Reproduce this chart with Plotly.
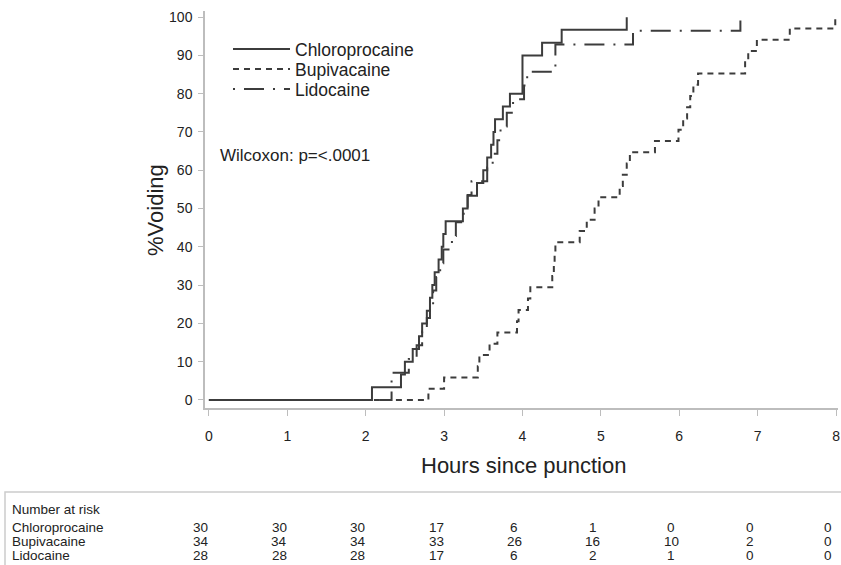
import plotly.graph_objects as go

# ---- data ----
chloro_t = [0, 2.08, 2.45, 2.50, 2.60, 2.68, 2.72, 2.78, 2.82, 2.85, 2.88, 2.93, 2.97, 2.99,
            3.02, 3.24, 3.30, 3.42, 3.50, 3.55, 3.60, 3.63, 3.65, 3.75, 3.84, 4.00, 4.25, 4.50, 5.33]
chloro_v = [0, 3.33, 6.67, 10.0, 13.33, 16.67, 20.0, 23.33, 26.67, 30.0, 33.33, 36.67, 40.0, 43.33,
            46.67, 50.0, 53.33, 56.67, 60.0, 63.33, 66.67, 70.0, 73.33, 76.67, 80.0, 90.0, 93.33, 96.67, 100]

bupi_t = [0, 2.80, 3.00, 3.43, 3.45, 3.58, 3.68, 3.93, 3.95, 4.07, 4.10, 4.38, 4.40, 4.41, 4.42,
          4.73, 4.82, 4.92, 4.97, 5.24, 5.28, 5.33, 5.37, 5.69, 5.99, 6.05, 6.10, 6.14, 6.18, 6.24,
          6.84, 6.88, 6.99, 7.41, 7.99, 8.0]
bupi_v = [0, 2.94, 5.88, 8.82, 11.76, 14.71, 17.65, 20.59, 23.53, 26.47, 29.41, 32.35, 35.29, 38.24, 41.18,
          44.12, 47.06, 50.0, 52.94, 55.88, 58.82, 61.76, 64.71, 67.65, 70.59, 73.53, 76.47, 79.41, 82.35, 85.29,
          88.24, 91.18, 94.12, 97.06, 100, 100]

lido_t = [0, 2.33, 2.55, 2.65, 2.72, 2.78, 2.82, 2.86, 2.90, 2.95, 2.99, 3.10, 3.15, 3.25, 3.30, 3.35,
          3.55, 3.62, 3.68, 3.72, 3.80, 3.88, 4.02, 4.06, 4.42, 5.41, 6.78]
lido_v = [0, 7.14, 10.71, 14.29, 17.86, 21.43, 25.0, 28.57, 32.14, 35.71, 39.29, 42.86, 46.43, 50.0, 53.57, 57.14,
          60.71, 64.29, 67.86, 71.43, 75.0, 78.57, 82.14, 85.71, 92.86, 96.43, 100]

risk_hours = [0, 1, 2, 3, 4, 5, 6, 7, 8]
risk_chloro = [30, 30, 30, 17, 6, 1, 0, 0, 0]
risk_bupi = [34, 34, 34, 33, 26, 16, 10, 2, 0]
risk_lido = [28, 28, 28, 17, 6, 2, 1, 0, 0]

x_ticks = [0, 1, 2, 3, 4, 5, 6, 7, 8]
y_ticks = [0, 10, 20, 30, 40, 50, 60, 70, 80, 90, 100]

# ---- layout geometry (pixels); body margin removed by post_script ----
W, H = 841, 565
L, R, T, B = 205, 3, 11, 157
PW, PH = W - L - R, H - T - B

def px(xp):  # page x pixel -> paper
    return (xp - L) / PW

def py(yp):  # page y pixel -> paper
    return (H - B - yp) / PH

LINE = "#3c3c3c"
FONT = "Liberation Sans, Arial, sans-serif"
NARROW = "Liberation Sans Narrow, Arial Narrow, Liberation Sans, sans-serif"

fig = go.Figure()
fig.add_trace(go.Scatter(x=chloro_t, y=chloro_v, mode="lines", name="Chloroprocaine", legend="legend",
                         line=dict(color=LINE, width=2, shape="hv")))
fig.add_trace(go.Scatter(x=bupi_t, y=bupi_v, mode="lines", name="Bupivacaine", legend="legend2",
                         line=dict(color=LINE, width=2, shape="hv", dash="6px,5px")))
fig.add_trace(go.Scatter(x=lido_t, y=lido_v, mode="lines", name="Lidocaine", legend="legend3",
                         line=dict(color=LINE, width=2, shape="hv", dash="2px,9px,20px,9px")))

ann = []
ann.append(dict(text="Wilcoxon: p=<.0001", xref="paper", yref="paper", x=px(218), y=py(155),
                xanchor="left", yanchor="middle", showarrow=False,
                font=dict(family=FONT, size=17, color="#222")))
ann.append(dict(text="%Voiding", xref="paper", yref="paper", x=px(156), y=py(210),
                xanchor="center", yanchor="middle", showarrow=False, textangle=-90,
                font=dict(family=FONT, size=22, color="#222")))
ann.append(dict(text="Hours since punction", xref="paper", yref="paper", x=px(523), y=py(466),
                xanchor="center", yanchor="middle", showarrow=False,
                font=dict(family=FONT, size=22, color="#222")))
ann.append(dict(text="Number at risk", xref="paper", yref="paper", x=px(10), y=py(509),
                xanchor="left", yanchor="middle", showarrow=False,
                font=dict(family=NARROW, size=13.5, color="#222")))
rows = [("Chloroprocaine", risk_chloro, 527), ("Bupivacaine", risk_bupi, 541), ("Lidocaine", risk_lido, 555)]
for name, vals, yy in rows:
    ann.append(dict(text=name, xref="paper", yref="paper", x=px(10), y=py(yy),
                    xanchor="left", yanchor="middle", showarrow=False,
                    font=dict(family=NARROW, size=13.5, color="#222")))
    for h, v in zip(risk_hours, vals):
        ann.append(dict(text=str(v), xref="x", yref="paper", x=h, y=py(yy), xshift=-8,
                        xanchor="center", yanchor="middle", showarrow=False,
                        font=dict(family=NARROW, size=13.5, color="#222")))

leg_common = dict(xanchor="left", yanchor="middle", bgcolor="rgba(0,0,0,0)", itemwidth=57,
                  font=dict(family=FONT, size=17.5, color="#222"))

fig.update_layout(
    width=W, height=H, margin=dict(l=L, r=R, t=T, b=B),
    paper_bgcolor="white", plot_bgcolor="white",
    showlegend=True,
    legend=dict(x=px(228), y=py(49), **leg_common),
    legend2=dict(x=px(228), y=py(69), **leg_common),
    legend3=dict(x=px(228), y=py(89), **leg_common),
    annotations=ann,
    shapes=[dict(type="rect", xref="paper", yref="paper", x0=px(5), x1=px(850),
                 y0=py(492), y1=py(600), line=dict(color="#cccccc", width=1.5))],
    xaxis=dict(range=[-0.05, 8.025], tickvals=x_ticks, showgrid=False, zeroline=False,
               automargin=False,
               showline=True, linecolor="#bdbdbd", linewidth=1.5,
               ticks="outside", ticklen=6, tickcolor="#bdbdbd", ticklabelstandoff=8,
               tickfont=dict(family=FONT, size=14, color="#222")),
    yaxis=dict(range=[-2.1, 101.6], tickvals=y_ticks, showgrid=False, zeroline=False,
               automargin=False,
               showline=True, linecolor="#bdbdbd", linewidth=1.5,
               ticks="outside", ticklen=5, tickcolor="#bdbdbd", ticklabelstandoff=3,
               tickfont=dict(family=FONT, size=14, color="#222")),
)

fig.write_html("out.html", config={"displayModeBar": False},
               post_script="document.body.style.margin='0';document.body.style.overflow='hidden';")
